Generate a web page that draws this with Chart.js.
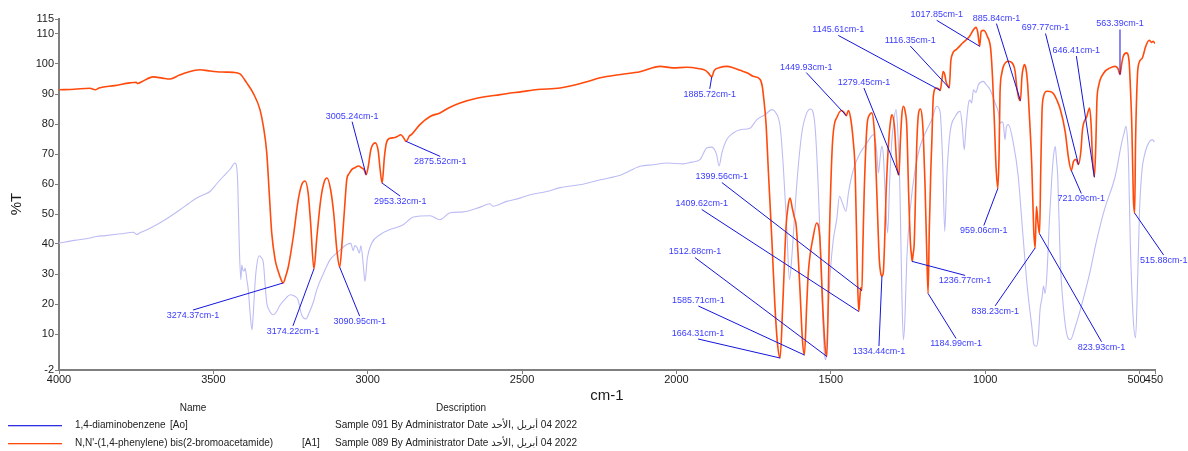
<!DOCTYPE html>
<html>
<head>
<meta charset="utf-8">
<script src="https://cdn.jsdelivr.net/npm/chart.js@4.4.1/dist/chart.umd.min.js"></script>
<style>
  html, body { margin: 0; padding: 0; background: #ffffff; }
  #wrap { width: 1188px; height: 451px; position: relative; }
</style>
</head>
<body>
<div id="wrap"><canvas id="ir" width="1188" height="451"></canvas></div>
<script>
// Axis ticks
const xTicks = [4000, 3500, 3000, 2500, 2000, 1500, 1000, 500, 450];
const yTicks = [-2, 10, 20, 30, 40, 50, 60, 70, 80, 90, 100, 110, 115];

// 1,4-diaminobenzene [Ao]
const aoWavenumber = [4000,3950,3900,3878,3850,3800,3759,3748,3735,3710,3684,3650,3608,3580,3554,3530,3511,3490,3468,3445,3430,3425,3421,3416,3411,3408,3405,3400,3397,3392,3387,3381,3375,3370,3365,3360,3352,3345,3338,3332,3327,3320,3306,3295,3285,3270,3250,3235,3226,3214,3200,3190,3175,3165,3138,3122,3100,3068,3055,3047,3042,3035,3027,3022,3014,3009,3001,2987,2960,2928,2885,2852,2798,2766,2733,2690,2636,2604,2595,2550,2507,2474,2420,2377,2300,2247,2180,2118,2075,2031,1978,1950,1924,1902,1886,1870,1862,1853,1837,1816,1794,1762,1740,1713,1691,1680,1664,1654,1643,1634,1627,1621,1610,1594,1578,1565,1551,1540,1529,1521,1516,1511,1502,1492,1481,1472,1462,1451,1443,1427,1405,1383,1362,1355,1351,1346,1340,1335,1330,1322,1316,1309,1303,1298,1289,1284,1276,1270,1265,1260,1254,1243,1227,1211,1189,1173,1157,1146,1138,1131,1124,1114,1097,1081,1074,1068,1062,1054,1049,1044,1038,1030,1022,1006,996,984,968,957,952,946,941,936,931,925,909,893,880,864,849,842,834,828,822,816,811,806,800,792,784,778,773,769,765,757,746,732,724,708,686,659,641,614,579,558,550,544,539,536,530,521,513,506,500,492,485,476,466,458,452];
const aoTransmittance = [40.3,41.2,42.0,42.5,42.8,43.4,43.9,43.2,43.9,45.0,46.4,48.5,51.4,53.5,55.3,56.5,57.5,60.0,62.5,65.0,67.0,66.0,60.0,39.2,28.1,33.0,31.5,31.0,32.0,28.5,24.8,17.0,11.4,18.0,27.0,32.5,36.1,35.5,33.7,26.0,20.3,18.1,16.4,17.5,19.5,21.4,23.1,22.5,21.4,16.4,15.0,17.0,21.0,24.8,31.4,34.8,37.0,39.8,40.2,37.8,39.5,38.9,37.0,39.4,32.5,27.5,35.5,40.3,43.1,44.8,46.4,49.0,49.4,48.1,50.4,50.7,52.3,53.4,52.6,54.2,55.3,56.4,57.5,58.8,60.0,61.4,63.0,65.9,66.4,67.0,66.7,67.3,68.1,72.0,72.3,69.8,66.0,70.3,74.8,77.0,78.1,78.6,81.4,83.1,84.8,84.0,79.0,65.9,45.9,28.1,34.8,43.7,60.3,77.0,83.7,85.0,79.0,57.0,23.7,3.7,1.4,12.5,30.3,41.4,48.1,55.9,53.5,50.9,57.0,64.8,70.3,73.7,76.4,74.0,70.3,63.7,69.0,72.6,69.8,52.0,43.7,62.0,73.7,79.2,84.8,79.2,57.0,23.7,8.1,15.0,34.8,51.4,64.8,72.5,78.1,81.4,85.9,84.0,68.1,44.2,63.0,77.0,82.5,84.2,79.0,71.4,79.0,87.0,88.0,87.0,91.4,90.5,93.1,94.2,93.0,91.4,87.0,83.7,80.3,80.7,79.8,74.8,79.2,79.8,73.7,62.5,45.9,25.9,12.5,6.4,5.9,9.0,18.5,22.0,26.0,23.5,30.0,48.0,62.5,70.0,72.5,68.0,62.5,34.8,18.1,8.7,8.1,12.5,20.3,31.4,40.3,51.4,62.5,73.7,77.0,79.2,75.0,69.0,40.3,15.9,8.7,29.0,51.4,64.8,69.2,72.5,74.4,74.7,74.0];

// N,N'-(1,4-phenylene) bis(2-bromoacetamide) [A1], between the labelled bands
const a1Wavenumber = [4000,3950,3900,3883,3870,3820,3770,3750,3745,3730,3695,3665,3640,3610,3586,3543,3515,3489,3460,3436,3414,3392,3371,3349,3338,3327,3319,3311,3300,3290,3282,3265,3257,3241,3225,3213,3203,3193,3185,3165,3152,3140,3132,3120,3110,3100,3082,3075,3068,3060,3052,3040,3030,3020,3012,2998,2990,2976,2966,2960,2946,2940,2930,2915,2905,2893,2885,2865,2857,2831,2798,2766,2735,2701,2650,2571,2500,2450,2377,2300,2247,2180,2118,2053,2011,1967,1930,1905,1895,1878,1860,1837,1815,1794,1770,1752,1729,1722,1718,1710,1702,1691,1681,1672,1656,1645,1638,1632,1625,1619,1612,1600,1592,1578,1573,1557,1546,1536,1526,1518,1505,1494,1479,1465,1458,1443,1436,1428,1421,1414,1406,1403,1396,1392,1383,1375,1367,1360,1357,1351,1343,1338,1330,1326,1321,1313,1306,1302,1294,1286,1275,1270,1265,1259,1254,1248,1242,1238,1233,1230,1226,1222,1216,1210,1204,1200,1195,1190,1181,1176,1173,1168,1159,1152,1140,1136,1131,1127,1122,1111,1094,1073,1051,1038,1030,1024,1013,1005,993,982,976,970,965,955,952,946,941,925,909,903,898,891,881,876,873,868,863,858,849,843,834,829,820,816,811,800,790,778,768,757,741,730,714,706,690,685,671,662,657,653,642,638,633,616,595,579,570,558,553,542,534,528,525,520,513,507,502,491,480,469,461,456,450];
const a1Transmittance = [91.4,91.6,91.9,91.4,92.0,92.8,93.7,93.9,93.5,94.2,95.7,95.3,95.0,96.3,97.2,98.1,97.7,97.4,97.3,97.2,96.7,93.7,90.3,84.8,79.2,70.3,57.0,43.7,34.8,30.9,28.5,29.5,32.5,42.5,54.8,60.0,61.0,57.0,47.0,42.0,55.0,61.0,62.0,58.0,50.0,38.0,42.0,52.0,61.4,63.5,64.8,65.5,66.0,65.4,64.8,66.0,71.4,73.7,71.0,65.0,69.0,73.5,75.2,75.4,75.8,76.4,75.6,76.0,76.6,79.8,82.5,83.7,85.5,87.0,88.5,89.8,90.8,91.5,92.0,93.8,95.4,96.5,97.4,99.2,98.7,98.9,98.5,97.8,96.8,97.8,98.8,99.2,98.7,97.9,97.0,95.9,94.8,92.5,89.2,80.3,63.6,41.4,19.2,6.0,19.0,45.9,53.0,55.3,52.0,49.2,45.9,24.8,8.0,20.0,30.4,42.5,47.0,42.5,19.0,5.0,41.4,74.8,82.5,84.5,84.0,84.5,82.0,75.0,63.7,30.3,22.0,25.5,40.0,57.0,79.2,83.0,83.7,79.0,73.7,57.0,34.8,30.0,30.5,40.0,57.0,73.7,81.5,83.1,79.2,65.9,73.7,83.0,85.9,84.0,79.2,57.0,40.0,35.5,37.0,40.0,55.0,72.0,83.5,85.0,82.0,75.0,60.0,40.0,45.0,65.0,73.7,89.2,92.0,91.8,95.0,97.5,96.5,94.2,92.8,101.4,104.8,107.0,109.2,111.4,112.2,110.5,110.9,111.2,109.2,104.8,95.0,80.0,66.0,70.0,90.3,97.0,99.2,100.9,99.8,97.5,92.5,88.5,95.8,99.0,99.8,98.5,94.0,85.0,65.9,45.0,52.5,47.0,65.0,84.0,89.2,90.9,90.8,90.0,88.0,85.0,77.5,68.5,67.5,68.2,71.0,78.0,82.5,85.3,80.0,70.0,72.0,88.0,92.5,97.0,98.7,99.2,98.5,100.0,102.5,103.7,100.9,88.0,79.2,55.0,73.7,95.9,100.3,102.0,105.9,107.9,107.2,107.6,106.8];

// Labelled bands of A1
const peakWavenumber = [3274.37,3174.22,3090.95,3005.24,2953.32,2875.52,1885.72,1664.31,1585.71,1512.68,1449.93,1409.62,1399.56,1334.44,1279.45,1236.77,1184.99,1145.61,1116.35,1017.85,959.06,885.84,838.23,823.93,721.09,697.77,646.41,563.39,515.88];
const peakTransmittance = [27.0,31.7,32.3,63.1,60.3,74.2,95.7,2.0,3.0,2.5,82.8,17.5,24.5,29.3,63.0,34.2,23.5,91.2,92.0,105.9,58.5,87.8,38.7,43.4,64.5,66.5,62.3,96.5,50.3];

// Callout placement: leader end offset from the band (px) and text side (1 below, -1 above)
const calloutLayout = [
  [-90, 27, 1], [-21, 57, 1], [20, 49, 1], [-14, -53, -1], [18, 13, 1], [34, 15, 1],
  [-2, 12, 1], [-82, -19, -1], [-106, -49, -1], [-132, -99, -1], [-40, -43, -1],
  [-157, -102, -1], [-140, -108, -1], [-3, 70, 1], [-35, -87, -1], [53, 14, 1],
  [28, 45, 1], [-102, -55, -1], [-39, -42, -1], [-43, -26, -1], [-14, 37, 1],
  [-24, -77, -1], [-40, 58, 1], [62, 108, 1], [10, 23, 1], [-33, -131, -1],
  [-18, -121, -1], [0, -45, -1], [29, 42, 1]
];

// Sample table under the plot
const sampleNames = ['1,4-diaminobenzene', "N,N'-(1,4-phenylene) bis(2-bromoacetamide)"];
const sampleTags = ['[Ao]', '[A1]'];
const sampleDescriptions = [
  'Sample 091 By Administrator Date الأحد,\u200E أبريل\u200E 04 2022',
  'Sample 089 By Administrator Date الأحد,\u200E أبريل\u200E 04 2022'
];

const FONT = '"Liberation Sans", Arial, "DejaVu Sans", sans-serif';
const ORANGE = '#ff4a0c';
const LAVENDER = '#bcbcf4';
const CALLOUT_TEXT = '#3a3aff';
const CALLOUT_LINE = '#1414dc';
const AXIS_GREY = '#7f7f7f';

function toPoints(wn, t) {
  return wn.map((w, i) => ({ x: w, y: t[i] }));
}

const a1Points = toPoints(a1Wavenumber, a1Transmittance)
  .concat(toPoints(peakWavenumber, peakTransmittance))
  .sort((a, b) => b.x - a.x);
const aoPoints = toPoints(aoWavenumber, aoTransmittance).sort((a, b) => b.x - a.x);

const calloutPlugin = {
  id: 'callouts',
  afterDatasetsDraw(chart) {
    const { ctx, scales } = chart;
    ctx.save();
    ctx.font = '9px ' + FONT;
    ctx.textAlign = 'center';
    peakWavenumber.forEach((wn, i) => {
      const px = scales.x.getPixelForValue(wn);
      const py = scales.y.getPixelForValue(peakTransmittance[i]);
      const [dx, dy, side] = calloutLayout[i];
      const ex = px + dx, ey = py + dy;
      ctx.strokeStyle = CALLOUT_LINE;
      ctx.lineWidth = 1;
      ctx.beginPath();
      ctx.moveTo(px, py);
      ctx.lineTo(ex, ey);
      ctx.stroke();
      ctx.fillStyle = CALLOUT_TEXT;
      ctx.textBaseline = 'middle';
      ctx.fillText(wn.toFixed(2) + 'cm-1', ex, ey + side * 5.5);
    });
    ctx.restore();
  }
};

// Wavenumber tick labels; the two crowded labels at the low end are nudged together
const xLabelNudge = { 500: -3, 450: -1 };

const framePlugin = {
  id: 'frameText',
  afterDraw(chart) {
    const { ctx, chartArea, scales } = chart;
    ctx.save();
    ctx.fillStyle = '#1a1a1a';
    ctx.font = '11px ' + FONT;
    ctx.textAlign = 'center';
    ctx.textBaseline = 'top';
    scales.x.ticks.forEach((t) => {
      const x = scales.x.getPixelForValue(t.value) + (xLabelNudge[t.value] || 0);
      ctx.fillText(String(t.value), x, chartArea.bottom + 4);
    });

    // axis titles
    ctx.font = '15px ' + FONT;
    ctx.textBaseline = 'middle';
    ctx.fillText('cm-1', (chartArea.left + chartArea.right) / 2, chartArea.bottom + 26);
    ctx.save();
    ctx.translate(17, 204);
    ctx.rotate(-Math.PI / 2);
    ctx.fillText('%T', 0, 0);
    ctx.restore();

    // sample table
    ctx.font = '10px ' + FONT;
    ctx.fillStyle = '#222222';
    ctx.textBaseline = 'middle';
    ctx.textAlign = 'center';
    ctx.fillText('Name', 193, 408);
    ctx.fillText('Description', 461, 408);
    const rowY = [425, 443];
    const rowColor = ['#3030e0', ORANGE];
    const tagX = [170, 302];
    sampleNames.forEach((name, i) => {
      ctx.fillStyle = rowColor[i];
      ctx.fillRect(8, rowY[i], 54, 1.3);
      ctx.textAlign = 'left';
      ctx.fillStyle = '#222222';
      ctx.fillText(name, 75, rowY[i]);
      ctx.fillText(sampleTags[i], tagX[i], rowY[i]);
      ctx.fillText(sampleDescriptions[i], 335, rowY[i]);
    });
    ctx.restore();
  }
};

new Chart(document.getElementById('ir'), {
  type: 'line',
  data: {
    datasets: [
      {
        label: sampleNames[1] + ' ' + sampleTags[1],
        data: a1Points,
        borderColor: ORANGE,
        borderWidth: 1.6,
        pointRadius: 0,
        cubicInterpolationMode: 'monotone',
        fill: false,
        order: 0
      },
      {
        label: sampleNames[0] + ' ' + sampleTags[0],
        data: aoPoints,
        borderColor: LAVENDER,
        borderWidth: 1.1,
        pointRadius: 0,
        cubicInterpolationMode: 'monotone',
        fill: false,
        order: 1
      }
    ]
  },
  options: {
    responsive: false,
    animation: false,
    devicePixelRatio: 1,
    layout: { padding: { top: 19, right: 33, left: 0, bottom: 0 } },
    plugins: { legend: { display: false }, tooltip: { enabled: false } },
    scales: {
      x: {
        type: 'linear',
        reverse: true,
        min: 450,
        max: 4000,
        afterBuildTicks: (scale) => { scale.ticks = xTicks.map(v => ({ value: v })); },
        afterFit: (scale) => { scale.height = 81; },
        ticks: { display: false, autoSkip: false, maxRotation: 0 },
        grid: { drawOnChartArea: false, drawTicks: true, tickLength: 4, color: AXIS_GREY, lineWidth: 1 },
        border: { display: true, color: AXIS_GREY, width: 2 }
      },
      y: {
        min: -2,
        max: 115,
        afterBuildTicks: (scale) => { scale.ticks = yTicks.map(v => ({ value: v })); },
        afterFit: (scale) => { scale.width = 59; },
        ticks: {
          autoSkip: false,
          padding: 1,
          color: '#1a1a1a',
          font: { family: FONT, size: 11 },
          callback: (v) => String(v)
        },
        grid: { drawOnChartArea: false, drawTicks: true, tickLength: 4, color: AXIS_GREY, lineWidth: 1 },
        border: { display: true, color: AXIS_GREY, width: 2 }
      }
    }
  },
  plugins: [calloutPlugin, framePlugin]
});
</script>
</body>
</html>
